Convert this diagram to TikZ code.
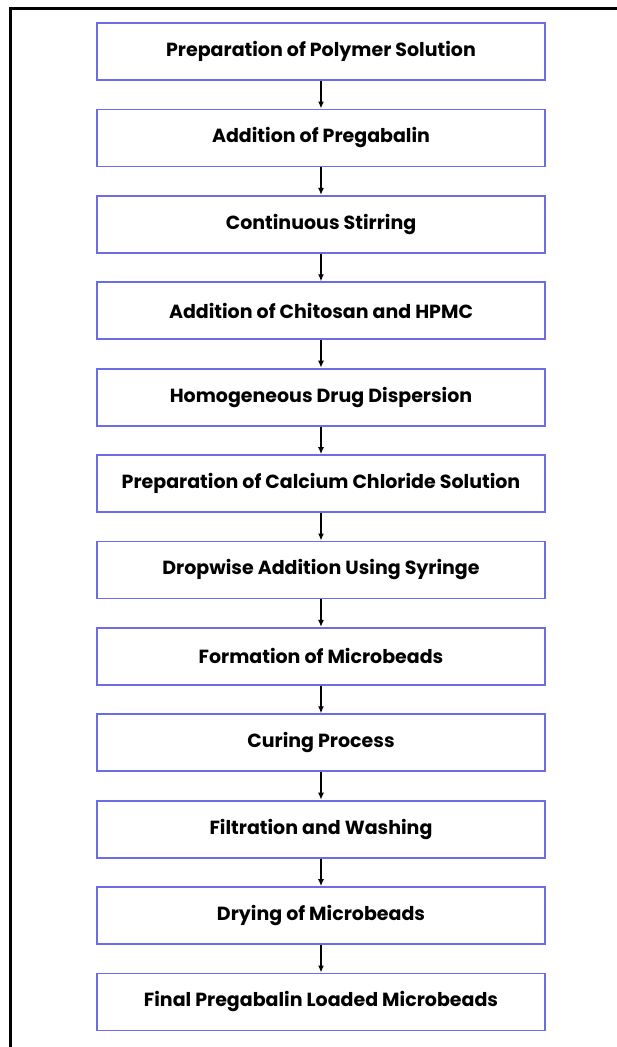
\documentclass[tikz,border=0pt]{standalone}
\usepackage{fontspec}
\setmainfont{Poppins}
\usetikzlibrary{arrows.meta}
\definecolor{boxblue}{RGB}{108,108,228}
\begin{document}
\begin{tikzpicture}[
    x=1pt, y=-1pt,
    stepbox/.style = { draw=boxblue, line width=1.8pt, rectangle,
        minimum width=448pt, minimum height=57pt, inner sep=0pt,
        font=\fontsize{19}{22}\selectfont\bfseries },
    flow/.style = { draw=black, line width=1.3pt, -{Latex[length=7pt,width=6pt]} }
    ]
\useasboundingbox (0,0) rectangle (616,1047);
\draw[line width=3pt] (10,1060) -- (10,8) -- (630,8);
\node[stepbox] (PPS) at (321,51.5) {Preparation of Polymer Solution};
\node[stepbox] (AP) at (321,137.9) {Addition of Pregabalin};
\node[stepbox] (CS) at (321,224.3) {Continuous Stirring};
\node[stepbox] (ACH) at (321,310.7) {Addition of Chitosan and HPMC};
\node[stepbox] (HDD) at (321,397.1) {Homogeneous Drug Dispersion};
\node[stepbox] (PCC) at (321,483.5) {Preparation of Calcium Chloride Solution};
\node[stepbox] (DAS) at (321,569.9) {Dropwise Addition Using Syringe};
\node[stepbox] (FM) at (321,656.3) {Formation of Microbeads};
\node[stepbox] (CP) at (321,742.7) {Curing Process};
\node[stepbox] (FW) at (321,829.1) {Filtration and Washing};
\node[stepbox] (DM) at (321,915.5) {Drying of Microbeads};
\node[stepbox] (FPL) at (321,1001.9) {Final Pregabalin Loaded Microbeads};
%
\foreach \Source/\Target in {%
        PPS/AP, AP/CS, CS/ACH, ACH/HDD, HDD/PCC, PCC/DAS,
        DAS/FM, FM/CP, CP/FW, FW/DM, DM/FPL%
    }
\draw[flow] (\Source.south) to (\Target.north);
\end{tikzpicture}
\end{document}
